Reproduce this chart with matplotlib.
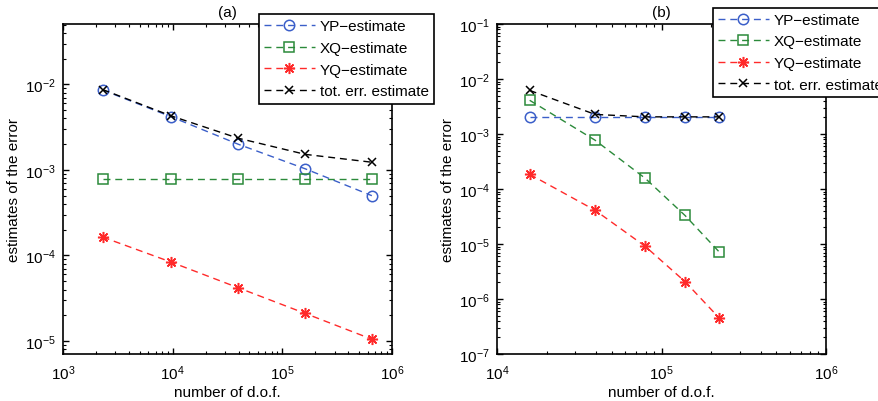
import matplotlib
matplotlib.use("Agg")
import matplotlib.pyplot as plt

plt.rcParams["font.family"] = ["Liberation Sans", "DejaVu Sans"]
plt.rcParams["mathtext.fontset"] = "custom"
plt.rcParams["mathtext.rm"] = "Liberation Sans"
plt.rcParams["mathtext.it"] = "Liberation Sans:italic"
plt.rcParams["font.size"] = 11

# panel (a)
dof_a = [2300, 9600, 39500, 162000, 655000]
yp_a = [8.6e-3, 4.2e-3, 2.0e-3, 1.03e-3, 5.0e-4]
xq_a = [7.8e-4, 7.8e-4, 7.8e-4, 7.8e-4, 7.8e-4]
yq_a = [1.64e-4, 8.4e-5, 4.2e-5, 2.1e-5, 1.05e-5]
tot_a = [8.7e-3, 4.3e-3, 2.35e-3, 1.52e-3, 1.23e-3]

# panel (b)
dof_b = [15800, 39500, 79500, 139000, 223000]
yp_b = [2.03e-3, 2.03e-3, 2.03e-3, 2.03e-3, 2.03e-3]
xq_b = [4.1e-3, 7.7e-4, 1.57e-4, 3.3e-5, 7.3e-6]
yq_b = [1.85e-4, 4.1e-5, 9.1e-6, 2.07e-6, 4.6e-7]
tot_b = [6.2e-3, 2.27e-3, 2.05e-3, 2.05e-3, 2.05e-3]

labels = ["YP\u2212estimate", "XQ\u2212estimate", "YQ\u2212estimate", "tot. err. estimate"]
colors = ["#3b5fc9", "#2b8a3a", "#ff2a2a", "black"]
markers = ["o", "s", (8, 2, 0), "x"]
msizes = [7.5, 6.5, 8, 6]


def draw(ax, dof, series, xlim, ylim, title, leg_anchor):
    for ys, lab, col, mk, ms in zip(series, labels, colors, markers, msizes):
        ax.plot(dof, ys, linestyle=(0, (5, 3.5)), color=col, lw=1.0,
                marker=mk, markersize=ms, markerfacecolor="none",
                markeredgecolor=col, markeredgewidth=1.1, label=lab)
    ax.set_xscale("log")
    ax.set_yscale("log")
    ax.set_xlim(*xlim)
    ax.set_ylim(*ylim)
    ax.set_title(title, fontsize=11, pad=6)
    ax.set_xlabel("number of d.o.f.", labelpad=2)
    ax.set_ylabel("estimates of the error")
    ax.yaxis.set_label_coords(-0.128, 0.5)
    ax.tick_params(which="both", direction="in", top=True, right=True, labelsize=11)
    ax.tick_params(axis="x", pad=7)
    ax.tick_params(axis="y", pad=5)
    ax.tick_params(which="major", length=4.5, width=1.0)
    ax.tick_params(which="minor", length=2.2, width=0.8)
    for sp in ax.spines.values():
        sp.set_linewidth(1.2)
    leg = ax.legend(loc="upper left", bbox_to_anchor=leg_anchor, borderaxespad=0,
                    fancybox=False, framealpha=1, edgecolor="black",
                    handlelength=3.3, handletextpad=0.35, labelspacing=0.5,
                    borderpad=0.35, fontsize=11)
    leg.get_frame().set_linewidth(1.2)
    leg.set_zorder(5)


fig = plt.figure(figsize=(8.79, 4.02), dpi=100)
ax1 = fig.add_axes([63 / 879, 47 / 402, 329 / 879, 330 / 402])
ax2 = fig.add_axes([497 / 879, 47 / 402, 329 / 879, 330 / 402])

draw(ax1, dof_a, [yp_a, xq_a, yq_a, tot_a], (1e3, 1e6), (7.05e-6, 5.08e-2), "(a)", (0.595, 1.03))
draw(ax2, dof_b, [yp_b, xq_b, yq_b, tot_b], (1e4, 1e6), (1e-7, 1e-1), "(b)", (0.656, 1.05))

fig.savefig("out.png", dpi=100)
